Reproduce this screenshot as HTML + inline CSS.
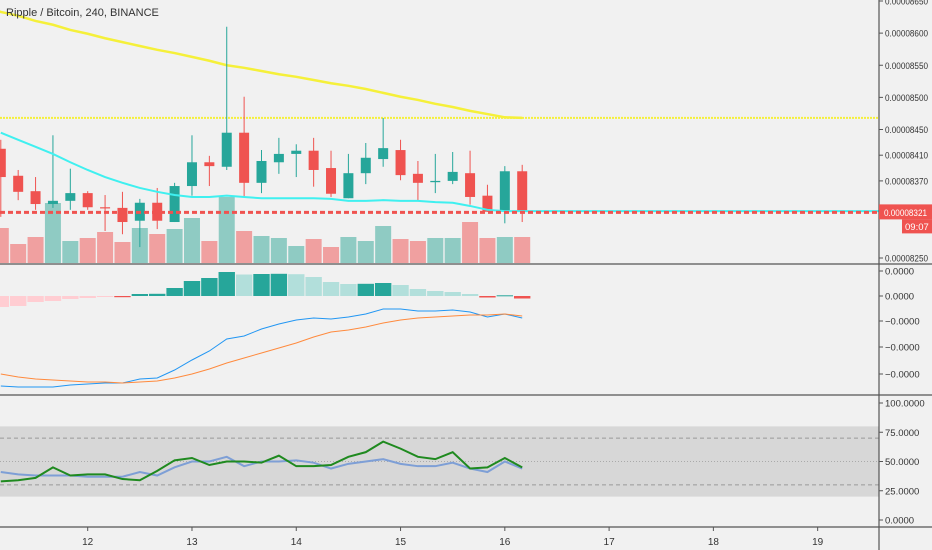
<!DOCTYPE html>
<html><head><meta charset="utf-8"><style>
html,body{margin:0;padding:0;background:#f1f1f1;}
svg{display:block;font-family:"Liberation Sans",sans-serif;}
</style></head><body>
<svg id="chart" width="932" height="550" viewBox="0 0 932 550" xmlns="http://www.w3.org/2000/svg">
<rect x="0" y="0" width="932" height="550" fill="#f1f1f1"/>
<g id="g"></g>
<text x="6" y="16" font-size="11" fill="#333">Ripple / Bitcoin, 240, BINANCE</text>
</svg>
<script>
const opens  = [8420,8378,8354,8334,8339,8351,8329,8328,8308,8336,8306,8362,8399,8392,8445,8367,8399,8412,8417,8390,8343,8382,8404,8418,8381,8368,8370,8382,8347,8323,8385];
const highs  = [8434,8387,8376,8441,8389,8354,8348,8353,8342,8359,8367,8441,8409,8610,8501,8418,8437,8427,8437,8417,8412,8429,8468,8434,8401,8412,8415,8417,8364,8393,8395];
const lows   = [8314,8340,8325,8328,8325,8325,8292,8287,8267,8295,8306,8347,8362,8387,8345,8351,8381,8376,8361,8345,8343,8365,8392,8371,8339,8351,8365,8333,8322,8304,8306];
const closes = [8376,8353,8334,8339,8351,8329,8328,8306,8336,8308,8362,8399,8393,8445,8367,8401,8412,8417,8387,8350,8382,8406,8421,8379,8367,8370,8384,8345,8322,8385,8322];
const volumes = [35,19,26,60,22,25,31,21,35,29,34,45,22,66,32,27,25,17,24,16,26,22,37,24,22,25,25,41,25,26,26];
const emaFast = [8445,8434,8423,8412,8399,8387,8376,8367,8359,8353,8348,8345,8345,8347,8345,8343,8343,8343,8343,8342,8339,8339,8340,8339,8339,8337,8336,8331,8325,8323,8323];
const maSlow = [8633,8627,8619,8613,8605,8599,8592,8586,8580,8574,8569,8563,8557,8550,8546,8541,8536,8532,8527,8522,8518,8513,8507,8501,8496,8490,8485,8479,8474,8469,8468];
const levelPrice = 8468;
const lastPrice = 8321;
const priceTicks = [8650,8600,8550,8500,8450,8410,8370,8250];
const macdHist = [-11,-10,-6,-5,-3,-2,-1,-1.2,2,2.2,8,15,18,24,21.5,22,22.2,21.8,19,14,12,12.2,13,11,7,5,4,2,-1.5,0.7,-2.5];
const macdLine = [-90,-91,-91,-91,-89,-88,-87,-87,-83,-82,-74,-64,-55,-43,-40,-33,-28,-24,-22,-23,-21,-18,-13,-13,-15,-15,-14,-16,-21,-18,-22];
const signalLine = [-78,-81,-83,-84,-85,-86,-86,-87,-86,-85,-82,-78,-73,-67,-62,-57,-52,-47,-41,-36,-34,-31,-27,-24,-22,-21,-20,-19,-19,-18,-20];
const macdTickVals = [25,0,-25,-51,-78];
const macdTickLabels = ["0.0000","0.0000","\u22120.0000","\u22120.0000","\u22120.0000"];
const rsi = [33,34,36,45,38,39,39,35,34,42,51,53,47,50,50,49,55,46,46,47,54,58,67,61,54,52,58,44,45,53,45];
const rsiMa = [41,39,38,38,38,37,37,37,41,38,45,50,50,54,46,50,50,51,49,44,48,50,52,48,46,46,49,44,41,50,44];
const rsiTicks = [100,75,50,25,0];
const dayLabels = ["12","13","14","15","16","17","18","19"];
const dayStartIndex = [5,11,17,23,29,35,41,47];

const NS="http://www.w3.org/2000/svg";
const G=document.getElementById('g');
const step=17.38;
const xOf=i=>87.7+(i-5)*step;
const yP=v=>1+(8650-v)*0.6425;
const yVol=v=>263-v;
const yM=v=>296-v;
const yR=v=>520-v*1.17;
const AX=879;
function el(tag,attrs,parent){const e=document.createElementNS(NS,tag);for(const k in attrs)e.setAttribute(k,attrs[k]);(parent||G).appendChild(e);return e;}
function txt(x,y,s,attrs){const t=el('text',Object.assign({x:x,y:y,'font-size':9.5,fill:'#333'},attrs||{}));t.textContent=s;return t;}
const GREEN='#26a69a',RED='#ef5350';

let band=el('rect',{x:0,y:yR(80),width:AX,height:yR(20)-yR(80),fill:'#d7d7d7'});


[70,30].forEach(v=>{const l=el('line',{x1:0,x2:AX,y1:yR(v),y2:yR(v),stroke:'#999','stroke-dasharray':'4 3','stroke-width':1});

});
let mid=el('line',{x1:0,x2:AX,y1:yR(50),y2:yR(50),stroke:'#aaa','stroke-dasharray':'1 2'});



volumes.forEach((v,i)=>{const up=closes[i]>=opens[i];
const r=el('rect',{x:xOf(i)-8,y:yVol(v),width:16,height:v,fill:up?'#8fcbc3':'#f0a0a0'});

});

let pts=maSlow.map((v,i)=>xOf(i)+','+yP(v)).join(' ');
let ma=el('polyline',{points:'-8,'+(yP(maSlow[0])-3)+' '+pts,fill:'none',stroke:'#f5f03a','stroke-width':2.5});


let lev=el('line',{x1:0,x2:AX,y1:yP(levelPrice),y2:yP(levelPrice),stroke:'#f5f03a','stroke-width':2,'stroke-dasharray':'2 1'});



opens.forEach((o,i)=>{const c=closes[i],up=c>=o,col=up?GREEN:RED,x=xOf(i);
const w=el('line',{x1:x,x2:x,y1:yP(highs[i]),y2:yP(lows[i]),stroke:col,'stroke-width':1});


const t=Math.min(yP(o),yP(c)),h=Math.max(1.2,Math.abs(yP(o)-yP(c)));
const b=el('rect',{x:x-5,y:t,width:10,height:h,fill:col});

});

let ema=el('polyline',{points:emaFast.map((v,i)=>xOf(i)+','+yP(v)).join(' ')+' '+AX+','+yP(emaFast[30]),fill:'none',stroke:'#3ff0f0','stroke-width':2});


let lp=el('line',{x1:0,x2:AX,y1:yP(lastPrice),y2:yP(lastPrice),stroke:RED,'stroke-width':3,'stroke-dasharray':'5 3'});



macdHist.forEach((v,i)=>{const p=i>0?macdHist[i-1]:v;let col;
if(v>=0)col=v>=p?GREEN:'#b2dfdb';else col=v<p?RED:'#ffcdd2';
const r=el('rect',{x:xOf(i)-8.2,y:Math.min(yM(v),yM(0)),width:16.4,height:Math.max(1,Math.abs(v)),fill:col});

});
let ml=el('polyline',{points:macdLine.map((v,i)=>xOf(i)+','+yM(v)).join(' '),fill:'none',stroke:'#2196f3','stroke-width':1});


let sl=el('polyline',{points:signalLine.map((v,i)=>xOf(i)+','+yM(v)).join(' '),fill:'none',stroke:'#ff8a3d','stroke-width':1});



let rm=el('polyline',{points:rsiMa.map((v,i)=>xOf(i)+','+yR(v)).join(' '),fill:'none',stroke:'#7e9fd6','stroke-width':2});


let rl=el('polyline',{points:rsi.map((v,i)=>xOf(i)+','+yR(v)).join(' '),fill:'none',stroke:'#1f8a1f','stroke-width':2});



[264,395,527].forEach((y,k)=>{const l=el('line',{x1:0,x2:932,y1:y,y2:y,stroke:'#555','stroke-width':1.2});

});
let ax=el('line',{x1:AX,x2:AX,y1:0,y2:550,stroke:'#555','stroke-width':1.2});



priceTicks.forEach(v=>{const y=yP(v);el('line',{x1:AX,x2:AX+4,y1:y,y2:y,stroke:'#555'});
const t=txt(AX+6,y+3.5,'0.0000'+v,{textLength:43,lengthAdjust:'spacingAndGlyphs'});

});
macdTickVals.forEach((v,k)=>{const y=yM(v);el('line',{x1:AX,x2:AX+4,y1:y,y2:y,stroke:'#555'});
const t=txt(AX+6,y+3.5,macdTickLabels[k]);

});
rsiTicks.forEach(v=>{const y=yR(v);el('line',{x1:AX,x2:AX+4,y1:y,y2:y,stroke:'#555'});
const t=txt(AX+6,y+3.5,v.toFixed(4));

});

let yl=yP(lastPrice);
let tag=el('rect',{x:AX,y:yl-8,width:53,height:15,fill:RED});


let tt=txt(AX+5,yl+3.5,'0.0000'+lastPrice,{fill:'#fff',textLength:43,lengthAdjust:'spacingAndGlyphs'});


let ct=el('rect',{x:902,y:yl+7,width:30,height:14,fill:RED});


let ctt=txt(905,yl+17.5,'09:07',{fill:'#fff'});



dayLabels.forEach((s,k)=>{const x=xOf(dayStartIndex[k]);el('line',{x1:x,x2:x,y1:527,y2:531,stroke:'#555'});
const t=txt(x,545,s,{'text-anchor':'middle','font-size':10});

});
</script>
</body></html>
